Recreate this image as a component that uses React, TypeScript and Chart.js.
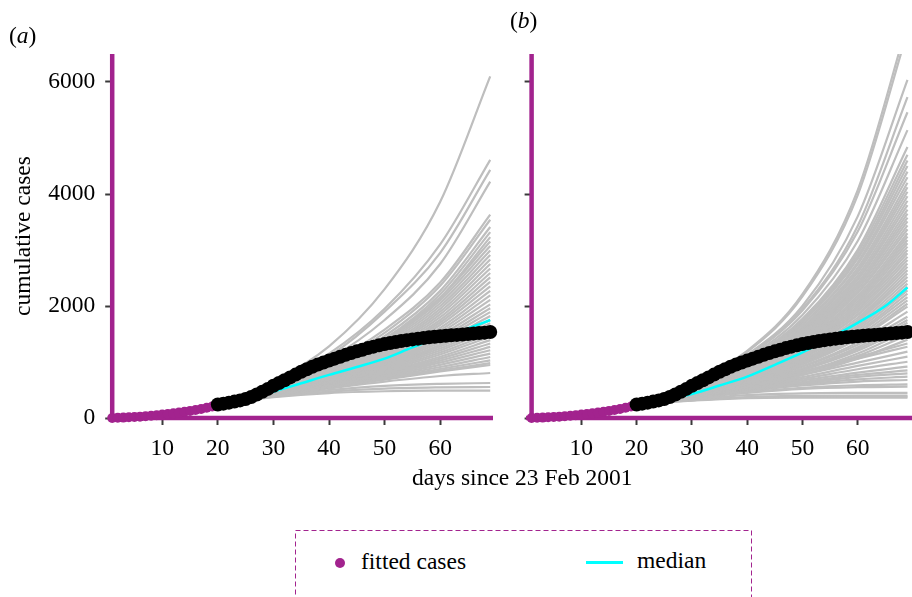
import React, { useEffect, useRef } from "react";
import { Chart, registerables } from "chart.js";
Chart.register(...registerables);

const SERIF = "'Liberation Serif', 'Times New Roman', serif";
const PURPLE = "#A2238E";
const CYAN = "#00FFFF";
const GREY = "#BEBEBE";
const TICK = "#3A3A3A";
const FONT_SIZE = 23.5;

const X_TICKS = [10, 20, 30, 40, 50, 60];
const Y_TICKS = [0, 2000, 4000, 6000];

const FIT_DAYS = [1, 2, 3, 4, 5, 6, 7, 8, 9, 10, 11, 12, 13, 14, 15, 16, 17, 18, 19, 20];
const FIT_CASES = [0, 3, 7, 12, 18, 24, 31, 39, 49, 61, 71, 83, 96, 111, 127, 144, 162, 182, 204, 228];

const OBS_DAYS = [20, 21, 22, 23, 24, 25, 26, 27, 28, 29, 30, 31, 32, 33, 34, 35, 36, 37, 38, 39, 40, 41, 42, 43, 44,
  45, 46, 47, 48, 49, 50, 51, 52, 53, 54, 55, 56, 57, 58, 59, 60, 61, 62, 63, 64, 65, 66, 67, 68, 69];
const OBS_CASES = [240, 256, 274, 293, 314, 340, 375, 420, 470, 520, 575, 625, 675, 725, 775, 825, 870, 915, 955, 990,
  1025, 1060, 1095, 1128, 1160, 1190, 1220, 1248, 1274, 1298, 1320, 1340, 1358, 1375, 1390, 1404, 1417, 1429, 1440, 1450,
  1460, 1468, 1476, 1484, 1492, 1500, 1508, 1516, 1524, 1535];

const MEDIAN_DAYS = [20, 25, 30, 35, 40, 45, 50, 55, 60, 65, 69];
const MEDIAN_A = [245, 330, 470, 620, 770, 910, 1060, 1260, 1440, 1600, 1750];
const MEDIAN_B = [245, 320, 430, 580, 740, 950, 1170, 1430, 1700, 2000, 2330];

const TRAJ_DAYS = [20, 30, 40, 50, 60, 69];
const TRAJ_A: number[][] = [
  [250, 650, 1280, 2300, 3860, 6100],
  [250, 620, 1150, 1950, 3100, 4610],
  [250, 600, 1100, 1900, 2950, 4430],
  [250, 590, 1050, 1750, 2750, 4220],
  [250, 580, 980, 1580, 2420, 3630],
  [250, 575, 950, 1520, 2360, 3540],
  [250, 570, 920, 1460, 2270, 3410],
  [250, 565, 890, 1410, 2210, 3320],
  [250, 560, 870, 1370, 2150, 3230],
  [250, 560, 880, 1400, 2150, 3150],
  [250, 555, 870, 1370, 2100, 3070],
  [250, 550, 860, 1340, 2050, 2990],
  [250, 550, 850, 1310, 2000, 2910],
  [250, 545, 840, 1280, 1950, 2830],
  [250, 540, 830, 1250, 1900, 2750],
  [250, 540, 820, 1225, 1850, 2670],
  [250, 535, 810, 1200, 1800, 2590],
  [250, 530, 800, 1175, 1750, 2510],
  [250, 530, 790, 1150, 1705, 2430],
  [250, 525, 780, 1125, 1660, 2350],
  [250, 520, 770, 1100, 1610, 2270],
  [250, 515, 760, 1080, 1565, 2190],
  [250, 510, 750, 1055, 1520, 2110],
  [250, 505, 740, 1030, 1475, 2030],
  [250, 500, 730, 1010, 1430, 1960],
  [250, 495, 720, 990, 1390, 1890],
  [250, 490, 710, 970, 1350, 1820],
  [250, 485, 700, 950, 1310, 1750],
  [250, 480, 690, 930, 1275, 1690],
  [250, 475, 680, 910, 1240, 1630],
  [250, 470, 670, 890, 1205, 1570],
  [250, 465, 660, 870, 1170, 1510],
  [250, 460, 650, 850, 1135, 1450],
  [250, 455, 640, 830, 1095, 1390],
  [250, 450, 630, 810, 1060, 1330],
  [250, 445, 620, 790, 1025, 1270],
  [250, 440, 610, 770, 990, 1210],
  [250, 435, 595, 750, 950, 1150],
  [250, 430, 580, 730, 910, 1090],
  [250, 425, 570, 710, 875, 1030],
  [250, 420, 560, 695, 845, 980],
  [250, 415, 550, 685, 830, 946],
  [250, 405, 530, 650, 750, 804],
  [250, 390, 500, 575, 610, 625],
  [250, 380, 470, 525, 547, 554],
  [250, 370, 445, 478, 488, 490],
];
const TRAJ_B: number[][] = [
  [250, 650, 1200, 2210, 4070, 7050],
  [250, 640, 1180, 2170, 3980, 6900],
  [250, 630, 1130, 2000, 3600, 6040],
  [250, 620, 1100, 1950, 3430, 5730],
  [250, 620, 1110, 1920, 3330, 5460],
  [250, 610, 1075, 1840, 3160, 5140],
  [250, 600, 1040, 1770, 3005, 4840],
  [250, 600, 1040, 1750, 2950, 4700],
  [250, 595, 1020, 1720, 2890, 4600],
  [250, 590, 1025, 1710, 2845, 4500],
  [250, 590, 1005, 1670, 2780, 4400],
  [250, 590, 1010, 1665, 2745, 4300],
  [250, 585, 990, 1625, 2680, 4200],
  [250, 580, 970, 1595, 2630, 4120],
  [250, 580, 975, 1590, 2600, 4040],
  [250, 575, 955, 1560, 2545, 3960],
  [250, 570, 935, 1530, 2495, 3880],
  [250, 570, 945, 1525, 2465, 3800],
  [250, 565, 925, 1490, 2415, 3720],
  [250, 560, 910, 1465, 2370, 3650],
  [250, 560, 915, 1465, 2345, 3580],
  [250, 555, 900, 1435, 2300, 3510],
  [250, 550, 880, 1405, 2255, 3440],
  [250, 550, 885, 1405, 2230, 3370],
  [250, 545, 870, 1375, 2180, 3300],
  [250, 540, 850, 1350, 2140, 3240],
  [250, 540, 865, 1350, 2120, 3180],
  [250, 535, 850, 1325, 2080, 3120],
  [250, 530, 830, 1300, 2040, 3060],
  [250, 530, 815, 1275, 2000, 3000],
  [250, 525, 820, 1275, 1980, 2940],
  [250, 520, 805, 1245, 1940, 2880],
  [250, 515, 785, 1220, 1900, 2820],
  [250, 510, 770, 1195, 1855, 2760],
  [250, 505, 775, 1195, 1835, 2700],
  [250, 500, 760, 1165, 1790, 2640],
  [250, 495, 740, 1140, 1750, 2580],
  [250, 490, 745, 1135, 1725, 2520],
  [250, 485, 730, 1105, 1685, 2460],
  [250, 480, 710, 1080, 1645, 2400],
  [250, 475, 715, 1075, 1615, 2340],
  [250, 470, 695, 1045, 1575, 2280],
  [250, 465, 680, 1020, 1535, 2220],
  [250, 455, 675, 1010, 1510, 2160],
  [250, 450, 655, 985, 1465, 2100],
  [250, 445, 640, 955, 1425, 2040],
  [250, 450, 660, 965, 1410, 1988],
  [250, 445, 630, 925, 1350, 1900],
  [250, 445, 635, 915, 1310, 1809],
  [250, 440, 615, 885, 1265, 1750],
  [250, 435, 600, 860, 1230, 1700],
  [250, 435, 610, 855, 1200, 1630],
  [250, 430, 580, 815, 1150, 1560],
  [250, 425, 585, 805, 1110, 1482],
  [250, 420, 560, 770, 1060, 1400],
  [250, 420, 600, 830, 1090, 1330],
  [250, 415, 590, 810, 1060, 1273],
  [250, 410, 570, 770, 990, 1184],
  [250, 405, 555, 730, 930, 1095],
  [250, 400, 540, 700, 870, 1005],
  [250, 395, 525, 670, 810, 916],
  [250, 390, 510, 640, 770, 850],
  [250, 385, 500, 620, 735, 798],
  [250, 380, 490, 600, 690, 738],
  [250, 375, 480, 580, 650, 679],
  [250, 365, 460, 540, 585, 600],
  [250, 360, 450, 520, 550, 559],
  [250, 340, 410, 440, 448, 450],
  [250, 320, 375, 395, 400, 400],
  [250, 315, 365, 378, 380, 380],
  [250, 310, 355, 363, 365, 365],
];

const pts = (xs: number[], ys: number[]) => xs.map((x, i) => ({ x, y: ys[i] }));

function buildDatasets(traj: number[][], median: number[], withOrigin: boolean) {
  const ds: any[] = [];
  ds.push({
    label: "observed", data: pts(OBS_DAYS, OBS_CASES), showLine: false,
    pointRadius: 7, pointHoverRadius: 7, pointBackgroundColor: "#000", pointBorderWidth: 0, clip: false,
  });
  ds.push({
    label: "fitted cases", data: pts(FIT_DAYS, FIT_CASES), showLine: false,
    pointRadius: 5, pointHoverRadius: 5, pointBackgroundColor: PURPLE, pointBorderWidth: 0, clip: false,
  });
  if (withOrigin) {
    ds.push({
      label: "origin", data: [{ x: 0, y: 0 }], showLine: false,
      pointRadius: 3.5, pointBackgroundColor: "#fff", pointBorderColor: PURPLE, pointBorderWidth: 1.5, clip: false,
    });
  }
  ds.push({
    label: "median", data: pts(MEDIAN_DAYS, median), borderColor: CYAN, borderWidth: 2.5,
    pointRadius: 0, cubicInterpolationMode: "monotone", fill: false,
  });
  traj.forEach((row, k) => {
    ds.push({
      label: "sim " + (k + 1), data: pts(TRAJ_DAYS, row), borderColor: GREY, borderWidth: 2.2,
      pointRadius: 0, cubicInterpolationMode: "monotone", fill: false,
    });
  });
  return ds;
}

function axisLinesPlugin(startDay: number) {
  return {
    id: "axisLines",
    beforeDatasetsDraw(chart: any) {
      const { ctx, chartArea, scales } = chart;
      const y0 = scales.y.getPixelForValue(0);
      ctx.save();
      ctx.strokeStyle = PURPLE;
      ctx.lineWidth = 4.5;
      ctx.beginPath();
      ctx.moveTo(chartArea.left, chartArea.top);
      ctx.lineTo(chartArea.left, y0 + 2);
      ctx.moveTo(scales.x.getPixelForValue(startDay), y0);
      ctx.lineTo(chartArea.right, y0);
      ctx.stroke();
      ctx.restore();
    },
  };
}

function makeOptions(xMax: number, yWidth: number, padRight: number, showYLabels: boolean) {
  const font = { family: SERIF, size: FONT_SIZE };
  return {
    animation: false,
    responsive: false,
    maintainAspectRatio: false,
    events: [],
    layout: { padding: { left: 0, right: padRight, top: 54, bottom: 0 } },
    plugins: { legend: { display: false }, tooltip: { enabled: false } },
    scales: {
      x: {
        type: "linear", min: 1, max: xMax,
        border: { display: false },
        grid: { drawOnChartArea: false, drawTicks: true, tickLength: 7, tickWidth: 2, tickColor: TICK },
        ticks: { font, color: "#000", padding: 10, maxRotation: 0, autoSkip: false },
        afterBuildTicks: (s: any) => { s.ticks = X_TICKS.map((v) => ({ value: v })); },
        afterFit: (s: any) => { s.height = 82; },
      },
      y: {
        type: "linear", min: 0, max: 6500,
        border: { display: false },
        grid: { drawOnChartArea: false, drawTicks: true, tickLength: 7, tickWidth: 2, tickColor: TICK },
        ticks: { font, color: "#000", padding: 10, callback: (v: any) => (showYLabels ? String(v) : "") },
        afterBuildTicks: (s: any) => { s.ticks = Y_TICKS.map((v) => ({ value: v })); },
        afterFit: (s: any) => { s.width = yWidth; },
        title: showYLabels
          ? { display: true, text: "cumulative cases", font, color: "#000", padding: { top: 9.5, bottom: 0 } }
          : { display: false },
      },
    },
  };
}

export default function App() {
  const refA = useRef<HTMLCanvasElement>(null);
  const refB = useRef<HTMLCanvasElement>(null);

  useEffect(() => {
    const a = new Chart(refA.current as HTMLCanvasElement, {
      type: "line",
      data: { datasets: buildDatasets(TRAJ_A, MEDIAN_A, false) },
      options: makeOptions(69.5, 112.2, 6, true) as any,
      plugins: [axisLinesPlugin(1)],
    });
    const b = new Chart(refB.current as HTMLCanvasElement, {
      type: "line",
      data: { datasets: buildDatasets(TRAJ_B, MEDIAN_B, true) },
      options: makeOptions(70, 31.6, 4, false) as any,
      plugins: [axisLinesPlugin(0)],
    });
    return () => { a.destroy(); b.destroy(); };
  }, []);

  const textStyle: React.CSSProperties = {
    position: "absolute", fontSize: FONT_SIZE, lineHeight: `${FONT_SIZE}px`, color: "#000", whiteSpace: "nowrap",
  };

  return (
    <div style={{ position: "fixed", left: 0, top: 0, width: 912, height: 597, overflow: "hidden", background: "#fff", fontFamily: SERIF }}>
      <canvas ref={refA} width={500} height={500} style={{ position: "absolute", left: 0, top: 0, width: 500, height: 500 }} />
      <canvas ref={refB} width={420} height={500} style={{ position: "absolute", left: 500, top: 0, width: 420, height: 500 }} />
      <div style={{ ...textStyle, left: 9, top: 24 }}>(<i>a</i>)</div>
      <div style={{ ...textStyle, left: 510, top: 9 }}>(<i>b</i>)</div>
      <div style={{ ...textStyle, left: 412, top: 466 }}>days since 23 Feb 2001</div>
      <svg width={470} height={80} style={{ position: "absolute", left: 290, top: 525 }}>
        <rect x={5.5} y={5.5} width={456} height={100} fill="none" stroke={PURPLE} strokeWidth={1} strokeDasharray="5 3" />
      </svg>
      <div style={{ position: "absolute", left: 335, top: 558, width: 10, height: 10, borderRadius: 5, background: PURPLE }} />
      <div style={{ ...textStyle, left: 361, top: 550 }}>fitted cases</div>
      <div style={{ position: "absolute", left: 586, top: 561, width: 37, height: 2.5, background: CYAN }} />
      <div style={{ ...textStyle, left: 637, top: 549 }}>median</div>
    </div>
  );
}
